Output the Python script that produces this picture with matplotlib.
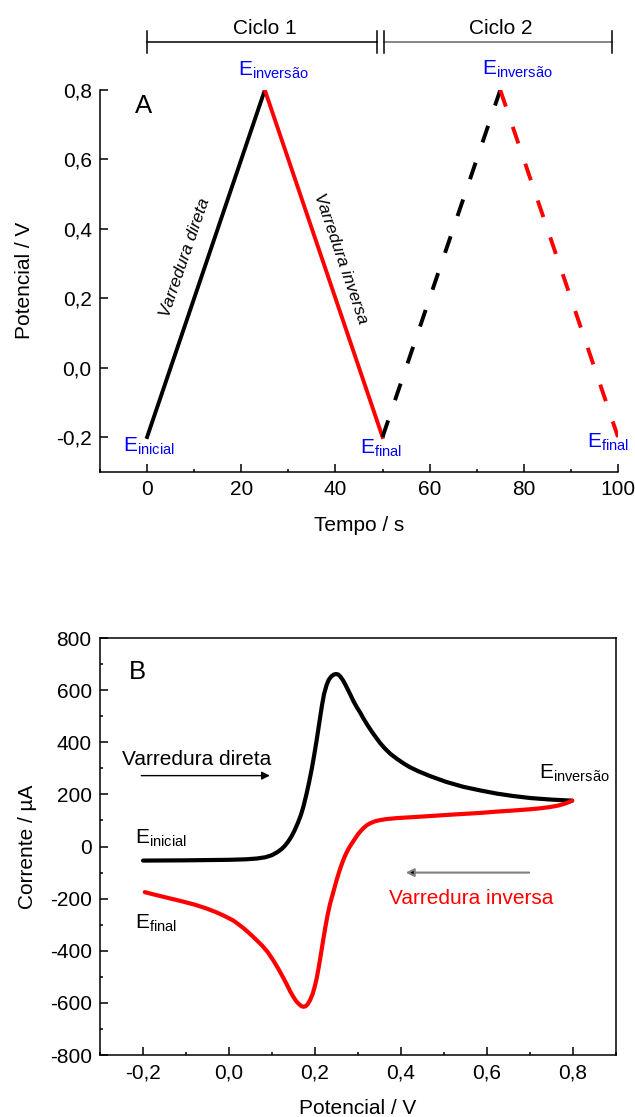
import numpy as np
import matplotlib
matplotlib.use("Agg")
import matplotlib.pyplot as plt
from matplotlib.ticker import FixedLocator, MultipleLocator, FuncFormatter
import matplotlib.transforms as mtransforms

plt.rcParams["font.family"] = ["Liberation Sans", "DejaVu Sans"]
plt.rcParams["mathtext.fontset"] = "custom"
plt.rcParams["mathtext.rm"] = "Liberation Sans"
plt.rcParams["mathtext.it"] = "Liberation Sans:italic"
plt.rcParams["axes.unicode_minus"] = False
plt.rcParams["font.size"] = 15

# ---------------- data ----------------
# panel A: potential waveform (two cycles)
t_fwd1 = [0, 25]
e_fwd1 = [-0.2, 0.8]
t_rev1 = [25, 50]
e_rev1 = [0.8, -0.2]
t_fwd2 = [50, 75]
e_fwd2 = [-0.2, 0.8]
t_rev2 = [75, 100]
e_rev2 = [0.8, -0.2]

# panel B: voltammogram, forward scan (black)
v_fwd = [-0.200, -0.100, 0.000, 0.040, 0.065, 0.085, 0.100, 0.112, 0.122, 0.130,
         0.138, 0.145, 0.152, 0.160, 0.167, 0.173, 0.180, 0.186, 0.192, 0.198,
         0.204, 0.210, 0.216, 0.221, 0.227, 0.232, 0.238, 0.244, 0.249, 0.254,
         0.259, 0.265, 0.271, 0.277, 0.283, 0.290, 0.297, 0.305, 0.312, 0.322,
         0.332, 0.342, 0.351, 0.362, 0.375, 0.390, 0.405, 0.420, 0.440, 0.468,
         0.505, 0.545, 0.585, 0.623, 0.660, 0.701, 0.750, 0.798]
i_fwd = [-54, -53, -51, -49, -46, -41, -33, -22, -10, 3,
         20, 38, 60, 90, 120, 153, 200, 245, 294, 350,
         410, 475, 540, 585, 620, 640, 653, 660, 662, 660,
         652, 638, 620, 600, 580, 556, 535, 514, 493, 466,
         441, 418, 398, 377, 356, 337, 320, 305, 289, 270,
         248, 229, 215, 203, 194, 186, 180, 176]

# reverse scan (red)
v_rev = [0.798, 0.790, 0.780, 0.765, 0.745, 0.720, 0.701, 0.660, 0.623, 0.585,
         0.545, 0.505, 0.468, 0.430, 0.390, 0.365, 0.350, 0.338, 0.328, 0.320,
         0.313, 0.306, 0.300, 0.293, 0.287, 0.281, 0.275, 0.270, 0.265, 0.260,
         0.255, 0.250, 0.245, 0.240, 0.235, 0.229, 0.224, 0.219, 0.214, 0.209,
         0.204, 0.199, 0.194, 0.188, 0.183, 0.178, 0.173, 0.168, 0.163, 0.157,
         0.150, 0.142, 0.134, 0.125, 0.115, 0.103, 0.090, 0.077, 0.064, 0.050,
         0.035, 0.020, 0.010, -0.010, -0.030, -0.052, -0.080, -0.110, -0.140, -0.170,
         -0.196]
i_rev = [176, 170, 164, 157, 151, 146, 143, 138, 134, 129,
         125, 121, 117, 113, 109, 105, 101, 96, 89, 81,
         71, 59, 47, 30, 15, 0, -18, -35, -55, -78,
         -103, -130, -160, -190, -220, -265, -310, -359, -410, -460,
         -505, -540, -568, -591, -605, -613, -615, -612, -605, -595,
         -578, -555, -528, -500, -470, -437, -405, -380, -359, -337,
         -315, -296, -284, -267, -252, -238, -223, -210, -198, -186,
         -175]

ticks_a_x = [0, 20, 40, 60, 80, 100]
ticks_a_y = [-0.2, 0.0, 0.2, 0.4, 0.6, 0.8]
ticks_b_x = [-0.2, 0.0, 0.2, 0.4, 0.6, 0.8]
ticks_b_y = [-800, -600, -400, -200, 0, 200, 400, 600, 800]

RED = "#ff0000"
BLUE = "#0000ff"


def comma(x, pos):
    return f"{x:.1f}".replace(".", ",").replace("-0,0", "0,0")


fig = plt.figure(figsize=(6.35, 11.17), dpi=100)

# ============================================================
# Panel A
# ============================================================
axA = fig.add_axes([0.1575, 0.5777, 0.8157, 0.3417])
dash = (0, (4.5, 5.5))
axA.plot(t_fwd1, e_fwd1, color="k", lw=2.8)
axA.plot(t_rev1, e_rev1, color=RED, lw=2.8)
axA.plot(t_fwd2, e_fwd2, color="k", lw=2.8, ls=dash)
axA.plot(t_rev2, e_rev2, color=RED, lw=2.8, ls=dash)
axA.set_xlim(-10, 100)
axA.set_ylim(-0.3, 0.8)
for s in ["top", "right"]:
    axA.spines[s].set_visible(False)
axA.xaxis.set_major_locator(FixedLocator(ticks_a_x))
axA.xaxis.set_minor_locator(MultipleLocator(10))
axA.yaxis.set_major_locator(FixedLocator(ticks_a_y))
axA.yaxis.set_major_formatter(FuncFormatter(comma))
axA.tick_params(which="both", direction="in", width=1.1)
axA.tick_params(which="major", length=5.5, pad=6)
axA.tick_params(which="minor", length=2.5)
axA.set_xlabel("Tempo / s", labelpad=12)
axA.set_ylabel("Potencial / V", labelpad=16)
axA.text(-2.6, 0.755, "A", fontsize=18.5, va="center", ha="left")

axA.text(26.8, 0.840, "E$_{\\mathrm{inversão}}$", color=BLUE, ha="center", va="baseline")
axA.text(78.6, 0.843, "E$_{\\mathrm{inversão}}$", color=BLUE, ha="center", va="baseline")
axA.text(-5.1, -0.241, "E$_{\\mathrm{inicial}}$", color=BLUE, ha="left", va="baseline")
axA.text(45.2, -0.248, "E$_{\\mathrm{final}}$", color=BLUE, ha="left", va="baseline")
axA.text(93.4, -0.232, "E$_{\\mathrm{final}}$", color=BLUE, ha="left", va="baseline",
         clip_on=False)

axA.text(8.05, 0.317, "Varredura direta", rotation=71, style="italic", fontsize=12.5,
         ha="center", va="center", rotation_mode="anchor")
axA.text(41.0, 0.314, "Varredura inversa", rotation=-71, style="italic", fontsize=12.5,
         ha="center", va="center", rotation_mode="anchor")

# cycle brackets above panel A
tr = mtransforms.blended_transform_factory(axA.transData, axA.transAxes)
y_br = 1.1258
kw = dict(transform=tr, clip_on=False, lw=1.1)
axA.plot([0, 48.9], [y_br, y_br], color="k", **kw)
axA.plot([50.4, 98.8], [y_br, y_br], color="#666666", **kw)
for xc in [0, 48.9, 50.4, 98.8]:
    axA.plot([xc, xc], [1.098, 1.155], color="k", **kw)
axA.text(25, 1.162, "Ciclo 1", transform=tr, ha="center", va="center")
axA.text(75, 1.162, "Ciclo 2", transform=tr, ha="center", va="center")

# ============================================================
# Panel B
# ============================================================
axB = fig.add_axes([0.1575, 0.0555, 0.8126, 0.3733])
axB.plot(v_fwd, i_fwd, color="k", lw=3, solid_joinstyle="round", solid_capstyle="round")
axB.plot(v_rev, i_rev, color=RED, lw=3, solid_joinstyle="round", solid_capstyle="round")
axB.set_xlim(-0.3, 0.9)
axB.set_ylim(-800, 800)
axB.xaxis.set_major_locator(FixedLocator(ticks_b_x))
axB.xaxis.set_minor_locator(MultipleLocator(0.1))
axB.xaxis.set_major_formatter(FuncFormatter(comma))
axB.yaxis.set_major_locator(FixedLocator(ticks_b_y))
axB.yaxis.set_minor_locator(MultipleLocator(100))
axB.tick_params(which="both", direction="in", width=1.1)
axB.tick_params(which="major", length=5.5, pad=6)
axB.tick_params(which="minor", length=2.5)
for s in axB.spines.values():
    s.set_linewidth(1.1)
for s in axA.spines.values():
    s.set_linewidth(1.1)
axB.set_xlabel("Potencial / V", labelpad=12)
axB.set_ylabel("Corrente / µA", labelpad=9)
axB.text(-0.233, 670, "B", fontsize=18.5, va="center", ha="left")

axB.text(-0.25, 313, "Varredura direta", ha="left", va="baseline")
axB.annotate("", xy=(0.095, 272), xytext=(-0.204, 272),
             arrowprops=dict(arrowstyle="-|>", color="k", lw=1, mutation_scale=12,
                             shrinkA=0, shrinkB=0))
axB.text(0.373, -220, "Varredura inversa", color=RED, ha="left", va="baseline")
axB.annotate("", xy=(0.411, -100), xytext=(0.698, -100),
             arrowprops=dict(arrowstyle="-|>", ec="#808080", fc="k", lw=1.5,
                             mutation_scale=12, shrinkA=0, shrinkB=0))

axB.text(-0.219, 12, "E$_{\\mathrm{inicial}}$", ha="left", va="baseline")
axB.text(-0.219, -314, "E$_{\\mathrm{final}}$", ha="left", va="baseline")
axB.text(0.722, 262, "E$_{\\mathrm{inversão}}$", ha="left", va="baseline")

fig.savefig("out.png", dpi=100)
